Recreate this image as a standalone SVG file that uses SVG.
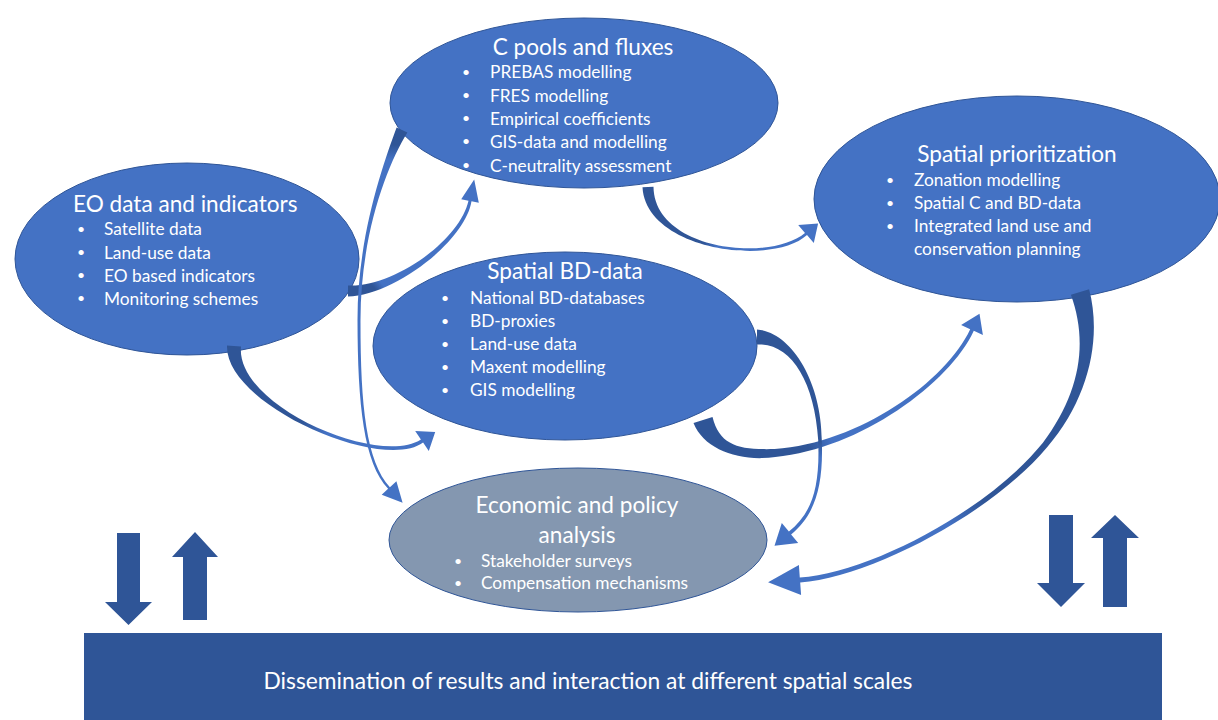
<svg xmlns="http://www.w3.org/2000/svg" width="1218" height="720" viewBox="0 0 1218 720">
<style>
.node{fill:#4472C4;stroke:#2F5597;stroke-width:1}
.econ{fill:#8497B0;stroke:#2F5597;stroke-width:1}
.t{font-family:Lato,"Open Sans",sans-serif;fill:#FFFFFF}
.title{font-size:22.6px}
.item{font-size:17.3px}
.bul{font-size:14px}
.blk{fill:#2F5597}
</style>
<defs>
<linearGradient id="g1" gradientUnits="userSpaceOnUse" x1="348" y1="291" x2="474" y2="180"><stop offset="0.13" stop-color="#2F5597"/><stop offset="0.18" stop-color="#4472C4"/></linearGradient>
<linearGradient id="g2" gradientUnits="userSpaceOnUse" x1="402" y1="130" x2="403" y2="503"><stop offset="0.04" stop-color="#2F5597"/><stop offset="0.08" stop-color="#4472C4"/></linearGradient>
<linearGradient id="g3" gradientUnits="userSpaceOnUse" x1="234" y1="346" x2="435" y2="432"><stop offset="0.42" stop-color="#2F5597"/><stop offset="0.55" stop-color="#4472C4"/></linearGradient>
<linearGradient id="g4" gradientUnits="userSpaceOnUse" x1="648" y1="187" x2="818" y2="224"><stop offset="0.38" stop-color="#2F5597"/><stop offset="0.46" stop-color="#4472C4"/></linearGradient>
<linearGradient id="g5" gradientUnits="userSpaceOnUse" x1="703" y1="420" x2="980" y2="314"><stop offset="0.3" stop-color="#2F5597"/><stop offset="0.38" stop-color="#4472C4"/></linearGradient>
<linearGradient id="g6" gradientUnits="userSpaceOnUse" x1="757" y1="337" x2="774" y2="546"><stop offset="0.52" stop-color="#2F5597"/><stop offset="0.6" stop-color="#4472C4"/></linearGradient>
<linearGradient id="g7" gradientUnits="userSpaceOnUse" x1="1080" y1="292" x2="768" y2="582"><stop offset="0.5" stop-color="#2F5597"/><stop offset="0.6" stop-color="#4472C4"/></linearGradient>
</defs>

<g id="node-cpools">
<ellipse class="node" cx="584" cy="103" rx="194" ry="85"/>
<text class="t title" x="583" y="55" text-anchor="middle">C pools and fluxes</text>
<text class="t bul" x="462" y="77">•</text><text class="t item" x="490" y="78">PREBAS modelling</text>
<text class="t bul" x="462" y="100">•</text><text class="t item" x="490" y="101.5">FRES modelling</text>
<text class="t bul" x="462" y="123">•</text><text class="t item" x="490" y="125">Empirical coefficients</text>
<text class="t bul" x="462" y="146">•</text><text class="t item" x="490" y="148">GIS-data and modelling</text>
<text class="t bul" x="462" y="170">•</text><text class="t item" x="490" y="171.5">C-neutrality assessment</text>
</g>

<g id="node-eo">
<ellipse class="node" cx="187" cy="259" rx="172" ry="96"/>
<text class="t title" x="73" y="212">EO data and indicators</text>
<text class="t bul" x="77" y="234">•</text><text class="t item" x="104" y="235">Satellite data</text>
<text class="t bul" x="77" y="257">•</text><text class="t item" x="104" y="258.5">Land-use data</text>
<text class="t bul" x="77" y="280">•</text><text class="t item" x="104" y="281.5">EO based indicators</text>
<text class="t bul" x="77" y="303">•</text><text class="t item" x="104" y="304.5">Monitoring schemes</text>
</g>

<g id="node-bd">
<ellipse class="node" cx="565" cy="346" rx="192" ry="94"/>
<text class="t title" x="565" y="279" text-anchor="middle">Spatial BD-data</text>
<text class="t bul" x="441" y="303">•</text><text class="t item" x="470" y="304">National BD-databases</text>
<text class="t bul" x="441" y="326">•</text><text class="t item" x="470" y="327">BD-proxies</text>
<text class="t bul" x="441" y="349">•</text><text class="t item" x="470" y="350">Land-use data</text>
<text class="t bul" x="441" y="372">•</text><text class="t item" x="470" y="373">Maxent modelling</text>
<text class="t bul" x="441" y="395">•</text><text class="t item" x="470" y="396">GIS modelling</text>
</g>

<g id="node-prior">
<ellipse class="node" cx="1017" cy="199" rx="203" ry="103"/>
<text class="t title" x="1017" y="162" text-anchor="middle">Spatial prioritization</text>
<text class="t bul" x="886" y="185">•</text><text class="t item" x="914" y="186">Zonation modelling</text>
<text class="t bul" x="886" y="208">•</text><text class="t item" x="914" y="209">Spatial C and BD-data</text>
<text class="t bul" x="886" y="231">•</text><text class="t item" x="914" y="232">Integrated land use and</text>
<text class="t item" x="914" y="255">conservation planning</text>
</g>

<g id="node-econ">
<ellipse class="econ" cx="578" cy="540" rx="189" ry="72"/>
<text class="t title" x="577" y="513" text-anchor="middle">Economic and policy</text>
<text class="t title" x="577" y="543" text-anchor="middle">analysis</text>
<text class="t bul" x="454" y="566">•</text><text class="t item" x="481" y="567">Stakeholder surveys</text>
<text class="t bul" x="454" y="588">•</text><text class="t item" x="481" y="589">Compensation mechanisms</text>
</g>

<g id="node-dissemination">
<rect class="blk" x="84" y="633" width="1078" height="87"/>
<text class="t" x="588" y="689" text-anchor="middle" font-size="22.8">Dissemination of results and interaction at different spatial scales</text>
</g>

<g id="connectors">
<path fill="url(#g1)" d="M348,296.5 C392,296.2 464.7,242.5 471.5,201.3 L478.8,202.7 L474.2,179.4 L461.2,199.3 L468.5,200.7 C459.3,241.5 392,287.8 348,285.5 Z"/>
<path fill="url(#g2)" d="M396.6,127.4 C383.2,164.1 357.5,235 357.5,320 C357.6,405 363.9,463 388.1,488.8 L381.7,494.8 L402.6,502.7 L396.4,481.2 L389.9,487.2 C366.1,461 360.4,405 360.5,320 C360.5,235 386.8,165.9 407.4,132.6 Z"/>
<path fill="url(#g3)" d="M227,345.5 C224.7,404.6 382.1,473 423.1,442.6 L428.8,450.9 L435.2,431.9 L415.2,431.1 L420.9,439.4 C377.9,467 235.3,405.4 241,346.5 Z"/>
<path fill="url(#g4)" d="M642.5,187.2 C645.8,250.1 771.8,267.1 807,235.1 L813.8,243.1 L818.1,223.6 L798.2,224.9 L805,232.9 C768.2,262.9 654.2,249.9 653.5,186.8 Z"/>
<path fill="url(#g5)" d="M693.5,423.1 C704.4,450.4 740.5,462 775.3,457 C860.2,449 950,382.9 973.8,330.8 L982.9,335 L979.5,313.7 L961.1,325 L970.2,329.2 C946,381.1 859.8,443 774.7,449 C739.5,450 719.6,445.6 712.5,416.9 Z"/>
<path fill="url(#g6)" d="M757,344.5 C790,342.5 814.5,380.1 818.2,440.1 C820.2,490.1 810.9,513.6 788.9,531.6 L781.8,522.9 L774.5,545.7 L798.2,543.1 L791.1,534.4 C813.1,516.4 823.8,489.9 821.8,439.9 C821.5,379.9 790,331.5 757,329.5 Z"/>
<path fill="url(#g7)" d="M1070.9,294.8 C1088,342.2 1080.9,391.7 1042.7,443.1 C988.1,510.4 869.8,572.8 799.8,577.5 L798.9,565 L768.1,582.3 L801.1,595 L800.2,582.5 C870.2,577.2 991.9,513.6 1047.3,446.9 C1089.1,398.3 1102,337.8 1089.1,289.2 Z"/>
</g>

<g id="updown-left">
<polygon class="blk" points="117,533 140,533 140,602 152,602 128.5,625 105,602 117,602"/>
<polygon class="blk" points="195,532 218,557 207,557 207,620 183,620 183,557 172,557"/>
</g>
<g id="updown-right">
<polygon class="blk" points="1049,515 1073,515 1073,583 1085,583 1061,607 1037,583 1049,583"/>
<polygon class="blk" points="1115,515 1139,538 1127,538 1127,607 1103,607 1103,538 1091,538"/>
</g>
</svg>
